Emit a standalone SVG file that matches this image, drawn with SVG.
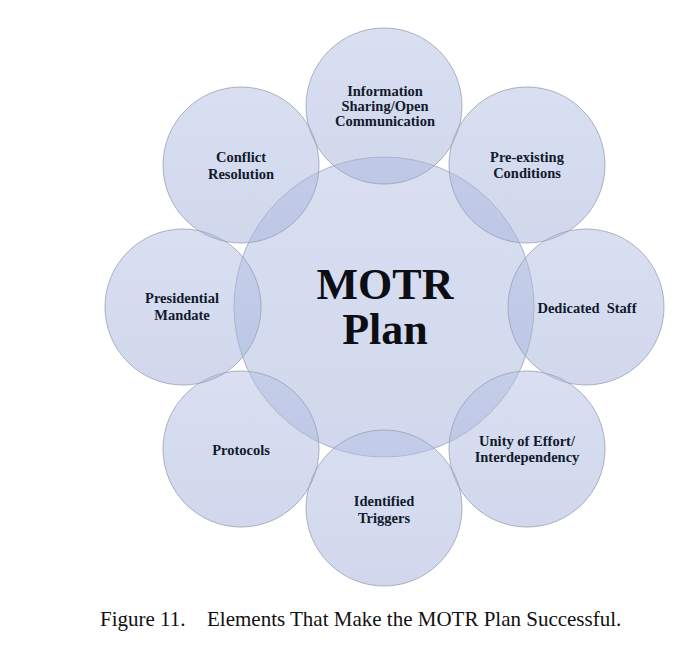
<svg xmlns="http://www.w3.org/2000/svg" width="687" height="651" viewBox="0 0 687 651">
<defs>
<linearGradient id="g" x1="0" y1="0" x2="0" y2="1">
<stop offset="0" stop-color="rgb(182,194,228)"/>
<stop offset="1" stop-color="rgb(166,180,220)"/>
</linearGradient>
<style>
.c{fill:url(#g);fill-opacity:0.52;stroke:#98a0b4;stroke-width:0.8}
.t{font-family:"Liberation Serif","Times New Roman",serif;font-weight:bold;font-size:14.5px;fill:#111a2c;text-anchor:middle}
.m{font-family:"Liberation Serif","Times New Roman",serif;font-weight:bold;font-size:44px;fill:#0d0d14;text-anchor:middle}
.cap{font-family:"Liberation Serif","Times New Roman",serif;font-size:21px;fill:#111}
</style>
</defs>
<rect width="687" height="651" fill="#fff"/>
<g id="center"><circle class="c" cx="384" cy="307" r="150"/><text class="m" x="385" y="299">MOTR</text><text class="m" x="385" y="344">Plan</text></g>
<g id="n-info"><circle class="c" cx="384" cy="106" r="78"/><text class="t" x="385" y="96">Information</text><text class="t" x="385" y="111">Sharing/Open</text><text class="t" x="385" y="126">Communication</text></g>
<g id="n-pre"><circle class="c" cx="527" cy="165" r="78"/><text class="t" x="527" y="162">Pre-existing</text><text class="t" x="527" y="178">Conditions</text></g>
<g id="n-staff"><circle class="c" cx="586" cy="307" r="78"/><text class="t" x="587" y="313" xml:space="preserve">Dedicated  Staff</text></g>
<g id="n-unity"><circle class="c" cx="527" cy="449" r="78"/><text class="t" x="527" y="446">Unity of Effort/</text><text class="t" x="527" y="462">Interdependency</text></g>
<g id="n-trig"><circle class="c" cx="384" cy="508" r="78"/><text class="t" x="384" y="506">Identified</text><text class="t" x="384" y="523">Triggers</text></g>
<g id="n-proto"><circle class="c" cx="241" cy="449" r="78"/><text class="t" x="241" y="455">Protocols</text></g>
<g id="n-pres"><circle class="c" cx="183" cy="307" r="78"/><text class="t" x="182" y="303">Presidential</text><text class="t" x="182" y="320">Mandate</text></g>
<g id="n-conf"><circle class="c" cx="241" cy="165" r="78"/><text class="t" x="241" y="162">Conflict</text><text class="t" x="241" y="179">Resolution</text></g>
<g id="connectors"></g>
<text class="cap" x="100" y="626">Figure 11.</text>
<text class="cap" x="207" y="626">Elements That Make the MOTR Plan Successful.</text>
</svg>
